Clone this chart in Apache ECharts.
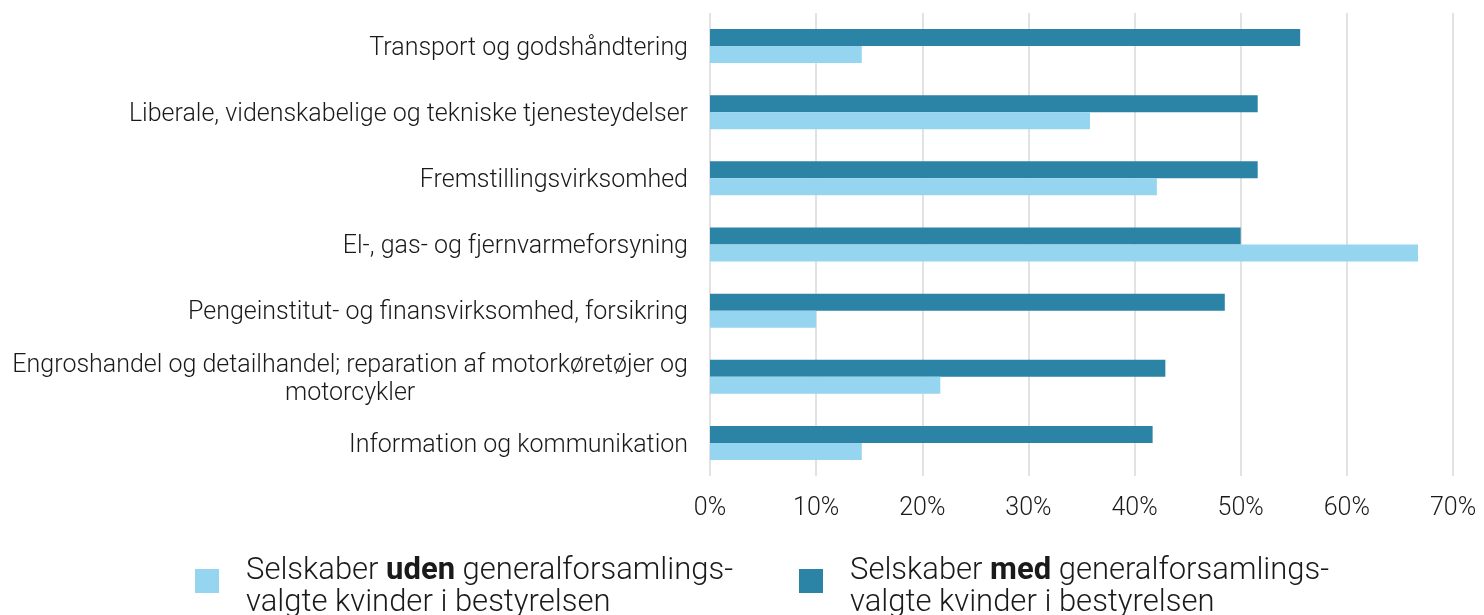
<!DOCTYPE html>
<html><head><meta charset="utf-8">
<script src="https://cdn.jsdelivr.net/npm/echarts@6/dist/echarts.min.js"></script>
<style>html,body{margin:0;padding:0;background:#fff}#c{width:1484px;height:615px}</style>
</head><body><div id="c"></div>
<script>
// categories bottom-to-top
const categories = [
  "Information og kommunikation",
  "Engroshandel og detailhandel; reparation af motorkøretøjer og\nmotorcykler",
  "Pengeinstitut- og finansvirksomhed, forsikring",
  "El-, gas- og fjernvarmeforsyning",
  "Fremstillingsvirksomhed",
  "Liberale, videnskabelige og tekniske tjenesteydelser",
  "Transport og godshåndtering"
];
const udenValues = [14.3, 21.7, 10.0, 66.7, 42.1, 35.8, 14.3];
const medValues  = [41.7, 42.9, 48.5, 50.0, 51.6, 51.6, 55.6];
const xTicks = [0, 10, 20, 30, 40, 50, 60, 70];

const FONT = "Roboto";
const TXT = '#1a1a1a';
const chart = echarts.init(document.getElementById('c'), null, {renderer: 'canvas'});
const legendText = n => 'Selskaber {b|' + n + '} generalforsamlings-\nvalgte kvinder i bestyrelsen';
const legendCommon = {
  orient: 'horizontal', itemWidth: 24, itemHeight: 24, itemGap: 20, padding: 0,
  icon: 'rect', selectedMode: false,
  textStyle: {
    fontFamily: FONT, fontWeight: 300, fontSize: 31, color: TXT, lineHeight: 32,
    padding: [12, 0, 0, 22],
    rich: {b: {fontFamily: FONT, fontWeight: 'bold', fontSize: 31, color: TXT, lineHeight: 32}}
  },
  formatter: legendText
};
chart.setOption({
  animation: false,
  grid: {left: 710, right: 31, top: 13, bottom: 139, containLabel: false},
  legend: [
    Object.assign({}, legendCommon, {data: ['uden'], left: 195, top: 543}),
    Object.assign({}, legendCommon, {data: ['med'], left: 799, top: 543})
  ],
  xAxis: {
    type: 'value', min: xTicks[0], max: xTicks[xTicks.length - 1], interval: 10,
    axisLine: {show: false}, axisTick: {show: false},
    splitLine: {show: true, lineStyle: {color: '#d9d9d9', width: 1.5}},
    axisLabel: {formatter: v => v + '%', fontFamily: FONT, fontWeight: 300, fontSize: 25, color: TXT, margin: 20}
  },
  yAxis: {
    type: 'category', data: categories,
    axisLine: {show: false}, axisTick: {show: false},
    axisLabel: {
      fontFamily: FONT, fontWeight: 300, fontSize: 25, color: TXT, margin: 22, lineHeight: 28,
      formatter: v => '{c|' + v + '}',
      rich: {c: {fontFamily: FONT, fontWeight: 300, fontSize: 25, color: TXT, lineHeight: 28, align: 'center', padding: [5, 0, 0, 0]}}
    }
  },
  series: [
    {name: 'med', type: 'bar', data: medValues, barWidth: 17, barGap: '0%', itemStyle: {color: '#2b83a5'}},
    {name: 'uden', type: 'bar', data: udenValues, barWidth: 17, barGap: '0%', itemStyle: {color: '#96d5f0'}}
  ]
});
</script></body></html>
